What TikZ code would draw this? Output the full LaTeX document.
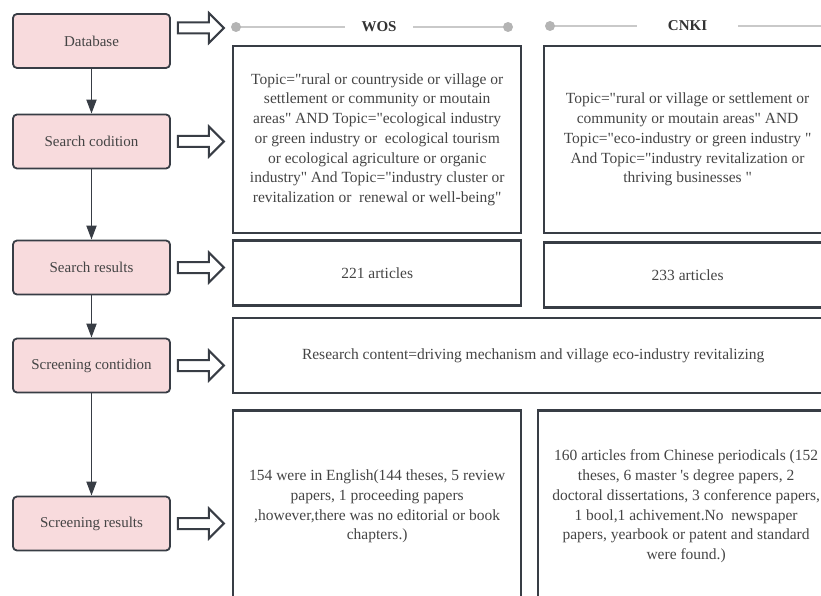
\documentclass[tikz,border=0pt]{standalone}
\usepackage{fontspec}
\setmainfont{Liberation Serif}
\newfontfamily\timesfont{Liberation Serif}
\usepackage{xcolor}
\usetikzlibrary{positioning,calc,arrows.meta}
\definecolor{boxpink}{HTML}{F8DBDD}
\definecolor{edgegray}{HTML}{383D45}
\definecolor{txtgray}{HTML}{444444}
\definecolor{rulegray}{HTML}{C9C9C9}
\definecolor{dotgray}{HTML}{B4B4B4}
\tikzset{
	stepbox/.style={rectangle, rounded corners=4pt, draw=edgegray, line width=1.8pt, fill=boxpink, minimum width=157pt, minimum height=54pt, text=txtgray, font=\timesfont\fontsize{15}{18}\selectfont},
	infobox/.style={rectangle, draw=edgegray, line width=2.4pt, text=txtgray, align=center, anchor=north west, font=\timesfont\fontsize{15.5}{19.75}\selectfont},
	flow/.style={draw=edgegray, line width=1.8pt, -{Triangle[length=14pt,width=10pt]}},
	hollow/.style={draw=edgegray, line width=2pt, fill=white, line join=miter},
	rulerline/.style={draw=rulegray, line width=2pt},
	hdrtext/.style={text=black!80, inner xsep=16.5pt, font=\timesfont\fontsize{15}{18}\selectfont\bfseries},
}
\begin{document}
\begin{tikzpicture}[x=1pt,y=-1pt]
		\useasboundingbox (0,0) rectangle (821,596);
		\clip (0,0) rectangle (821,596);
		\node[stepbox] (db) at (91.5,41) {Database};
		\node[stepbox] (scond) at (91.5,141.5) {Search codition};
		\node[stepbox] (sres) at (91.5,267.5) {Search results};
		\node[stepbox] (scrcond) at (91.5,365.5) {Screening contidion};
		\node[stepbox] (scrres) at (91.5,523.5) {Screening results};
		\draw[flow] (db) -- (scond);
		\draw[flow] (scond) -- (sres);
		\draw[flow] (sres) -- (scrcond);
		\draw[flow] (scrcond) -- (scrres);
		\foreach \n/\dy in {db/-13,scond/0,sres/0,scrcond/0,scrres/0}
			\draw[hollow] ($(\n.east)+(7,\dy)$) ++(0,-5.5) --++ (31,0) --++ (0,-9.5) --++ (15,15) --++ (-15,15) --++ (0,-9.5) --++ (-31,0) -- cycle;
		
		\coordinate (wosa) at (236,27);
		\coordinate (wosb) at (508,27);
		\node[hdrtext] (wos) at (379,27) {WOS};
		\draw[rulerline] (wosa) -- (wos.west);
		\draw[rulerline] (wos.east) -- (wosb);
		\fill[dotgray] (wosa) circle (5);
		\fill[dotgray] (wosb) circle (5);
		\coordinate (cnkia) at (550,26);
		\coordinate (cnkib) at (850,26);
		\node[hdrtext, inner xsep=31pt] (cnki) at (687.5,26) {CNKI};
		\draw[rulerline] (cnkia) -- (cnki.west);
		\draw[rulerline] (cnki.east) -- (cnkib);
		\fill[dotgray] (cnkia) circle (5);
		
		\node[infobox, minimum width=288, minimum height=187] (wosq) at (232,45) {Topic="rural or countryside or village or\\settlement or community or moutain\\areas" AND Topic="ecological industry\\or green industry or~ ecological tourism\\or ecological agriculture or organic\\industry" And Topic="industry cluster or\\revitalization or~ renewal or well-being"};
		\node[infobox, minimum width=287, minimum height=187, shift={(20.5,0)}] (cnkiq) at (wosq.north east) {Topic="rural or village or settlement or\\community or moutain areas" AND\\Topic="eco-industry or green industry "\\And Topic="industry revitalization or\\thriving businesses "};
		\node[infobox, minimum width=288, minimum height=65, shift={(0,5)}] (wosres) at (wosq.south west) {221 articles};
		\node[infobox, minimum width=287, minimum height=65, shift={(0,7)}] (cnkires) at (cnkiq.south west) {233 articles};
		\node[infobox, minimum width=600, minimum height=75, shift={(0,10)}] (content) at (wosres.south west) {Research content=driving mechanism and village eco-industry revitalizing};
		\node[infobox, minimum width=288, minimum height=192, shift={(0,15)}] (wosfin) at (content.south west) {154 were in English(144 theses, 5 review\\papers, 1 proceeding papers\\,however,there was no editorial or book\\chapters.)};
		\node[infobox, minimum width=296, minimum height=192, shift={(14.5,0)}] (cnkifin) at (wosfin.north east) {160 articles from Chinese periodicals (152\\theses, 6 master 's degree papers, 2\\doctoral dissertations, 3 conference papers,\\1 bool,1 achivement.No~ newspaper\\papers, yearbook or patent and standard\\were found.)};
	\end{tikzpicture}
\end{document}
